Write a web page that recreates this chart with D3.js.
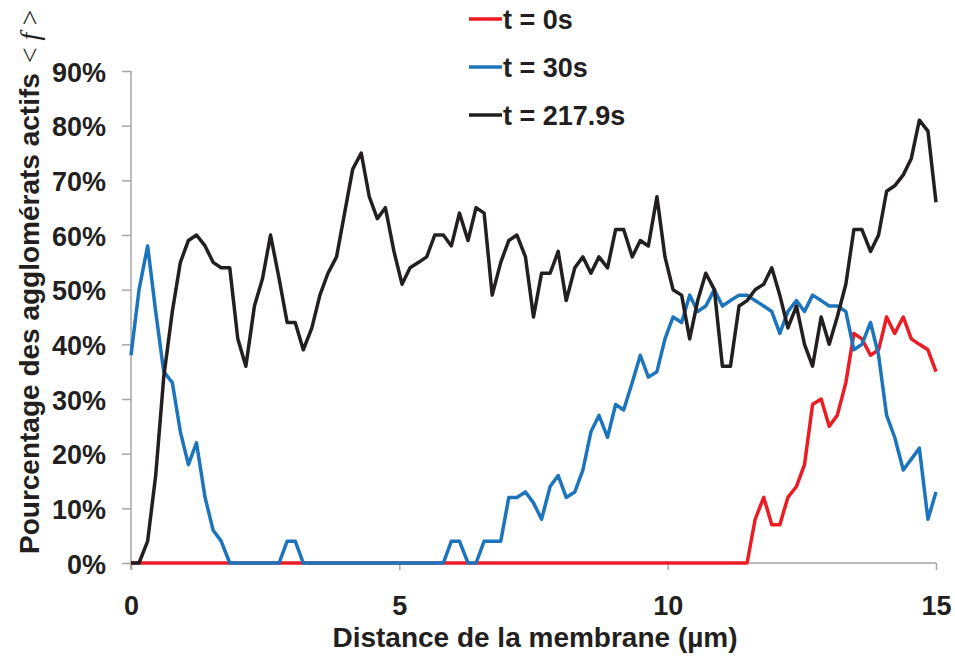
<!DOCTYPE html>
<html>
<head>
<meta charset="utf-8">
<script src="https://cdn.jsdelivr.net/npm/d3@7"></script>
<style>
    body { margin: 0; background: #fff; }
    text { font-family: Arial, "Liberation Sans", sans-serif; font-weight: bold; fill: #231f20; }
    .axis-line { stroke: #a6a6a6; stroke-width: 1.5; fill: none; }
    .series { fill: none; stroke-width: 3.5; stroke-linejoin: round; }
</style>
</head>
<body>
<div id="canvas"></div>
<script>
// Distance (µm) for each sample
const distance = [
    0, 0.15, 0.31, 0.46, 0.61, 0.77, 0.92, 1.07, 1.22, 1.38,
    1.53, 1.68, 1.84, 1.99, 2.14, 2.30, 2.45, 2.60, 2.76, 2.91,
    3.06, 3.21, 3.37, 3.52, 3.67, 3.83, 3.98, 4.13, 4.29, 4.44,
    4.59, 4.74, 4.90, 5.05, 5.20, 5.36, 5.51, 5.66, 5.82, 5.97,
    6.12, 6.28, 6.43, 6.58, 6.73, 6.89, 7.04, 7.19, 7.35, 7.50,
    7.65, 7.81, 7.96, 8.11, 8.27, 8.42, 8.57, 8.72, 8.88, 9.03,
    9.18, 9.34, 9.49, 9.64, 9.80, 9.95, 10.10, 10.26, 10.41, 10.56,
    10.71, 10.87, 11.02, 11.17, 11.33, 11.48, 11.63, 11.79, 11.94, 12.09,
    12.24, 12.40, 12.55, 12.70, 12.86, 13.01, 13.16, 13.32, 13.47, 13.62,
    13.78, 13.93, 14.08, 14.23, 14.39, 14.54, 14.69, 14.85, 15.00
]

// Percentages (%) per series
const t0 = [
    0, 0, 0, 0, 0, 0, 0, 0, 0, 0,
    0, 0, 0, 0, 0, 0, 0, 0, 0, 0,
    0, 0, 0, 0, 0, 0, 0, 0, 0, 0,
    0, 0, 0, 0, 0, 0, 0, 0, 0, 0,
    0, 0, 0, 0, 0, 0, 0, 0, 0, 0,
    0, 0, 0, 0, 0, 0, 0, 0, 0, 0,
    0, 0, 0, 0, 0, 0, 0, 0, 0, 0,
    0, 0, 0, 0, 0, 0, 8, 12, 7, 7,
    12, 14, 18, 29, 30, 25, 27, 33, 42, 41,
    38, 39, 45, 42, 45, 41, 40, 39, 35
]
const t30 = [
    38, 50, 58, 46, 35, 33, 24, 18, 22, 12,
    6, 4, 0, 0, 0, 0, 0, 0, 0, 4,
    4, 0, 0, 0, 0, 0, 0, 0, 0, 0,
    0, 0, 0, 0, 0, 0, 0, 0, 0, 4,
    4, 0, 0, 4, 4, 4, 12, 12, 13, 11,
    8, 14, 16, 12, 13, 17, 24, 27, 23, 29,
    28, 33, 38, 34, 35, 41, 45, 44, 49, 46,
    47, 50, 47, 48, 49, 49, 48, 47, 46, 42,
    46, 48, 46, 49, 48, 47, 47, 46, 39, 40,
    44, 38, 27, 23, 17, 19, 21, 8, 13
]
const t2179 = [
    0, 0, 4, 16, 34, 46, 55, 59, 60, 58,
    55, 54, 54, 41, 36, 47, 52, 60, 52, 44,
    44, 39, 43, 49, 53, 56, 64, 72, 75, 67,
    63, 65, 57, 51, 54, 55, 56, 60, 60, 58,
    64, 59, 65, 64, 49, 55, 59, 60, 56, 45,
    53, 53, 57, 48, 54, 56, 53, 56, 54, 61,
    61, 56, 59, 58, 67, 56, 50, 49, 41, 48,
    53, 50, 36, 36, 47, 48, 50, 51, 54, 49,
    43, 47, 40, 36, 45, 40, 45, 51, 61, 61,
    57, 60, 68, 69, 71, 74, 81, 79, 66
]

const seriesNames = ['t = 0s', 't = 30s', 't = 217.9s']
const seriesColors = ['#ed1c24', '#1c75bc', '#231f20']
const xTicks = [0, 5, 10, 15]
const yTicks = [0, 10, 20, 30, 40, 50, 60, 70, 80, 90]

// Constants
const width = 955
const height = 662
const plotLeft = 131
const plotRight = 936
const plotTop = 71
const plotBottom = 563
const tickFont = 27
const titleFont = 28

const xScale = d3.scaleLinear().domain([0, 15]).range([plotLeft, plotRight])
const yScale = d3.scaleLinear().domain([0, 90]).range([plotBottom, plotTop])

const svg = d3.select('#canvas')
    .append('svg').attr('width', width).attr('height', height)

// Y axis
const yAxis = d3.axisLeft(yScale)
    .tickValues(yTicks)
    .tickSize(9)
    .tickPadding(16)
    .tickFormat(d => d + '%')
const yG = svg.append('g')
    .attr('transform', `translate(${plotLeft},0)`)
    .call(yAxis)
yG.select('.domain').attr('class', 'axis-line').attr('d', `M0,${plotTop}V${plotBottom + 7}`)
yG.selectAll('.tick line').attr('class', 'axis-line')
yG.selectAll('.tick text')
    .attr('font-size', tickFont)
    .attr('dy', null)
    .attr('y', 10)
    .attr('fill', '#231f20')

// X axis
const xAxis = d3.axisBottom(xScale)
    .tickValues(xTicks)
    .tickSize(7)
    .tickFormat(d => d)
const xG = svg.append('g')
    .attr('transform', `translate(0,${plotBottom})`)
    .call(xAxis)
xG.select('.domain').attr('class', 'axis-line').attr('d', `M${plotLeft},0H${plotRight}`)
xG.selectAll('.tick line').attr('class', 'axis-line')
xG.selectAll('.tick text')
    .attr('font-size', tickFont)
    .attr('dy', null)
    .attr('y', 52)
    .attr('fill', '#231f20')
svg.selectAll('g').attr('font-family', null).attr('font-size', null)

// Lines, drawn in legend order so the last one sits on top
const lineGen = d3.line()
    .x((d, i) => xScale(distance[i]))
    .y(d => yScale(d))

const allSeries = [t0, t30, t2179]
allSeries.forEach((values, k) => {
    svg.append('path')
        .datum(values)
        .attr('class', 'series')
        .attr('stroke', seriesColors[k])
        .attr('d', lineGen)
})

// Legend
const legend = svg.append('g').attr('transform', 'translate(469,19)')
seriesNames.forEach((name, k) => {
    legend.append('line')
        .attr('x1', 0).attr('x2', 33)
        .attr('y1', k * 48).attr('y2', k * 48)
        .attr('stroke', seriesColors[k])
        .attr('stroke-width', 3.5)
    legend.append('text')
        .attr('x', 34)
        .attr('y', k * 48 + 9.5)
        .attr('font-size', tickFont)
        .text(name)
})

// Axis titles
svg.append('text')
    .attr('x', 535)
    .attr('y', 647)
    .attr('text-anchor', 'middle')
    .attr('font-size', titleFont)
    .text('Distance de la membrane (µm)')

const serif = '"Liberation Serif", "Times New Roman", serif'
const yTitle = svg.append('text')
    .attr('transform', 'translate(39,554) rotate(-90)')
    .attr('font-size', titleFont)
yTitle.append('tspan').text('Pourcentage des agglomérats actifs')
yTitle.append('tspan')
    .attr('dx', 10)
    .style('font-family', serif)
    .style('font-weight', 'normal')
    .text('< ')
yTitle.append('tspan')
    .style('font-family', serif)
    .style('font-weight', 'normal')
    .style('font-style', 'italic')
    .text('f')
yTitle.append('tspan')
    .style('font-family', serif)
    .style('font-weight', 'normal')
    .text(' >')
</script>
</body>
</html>
